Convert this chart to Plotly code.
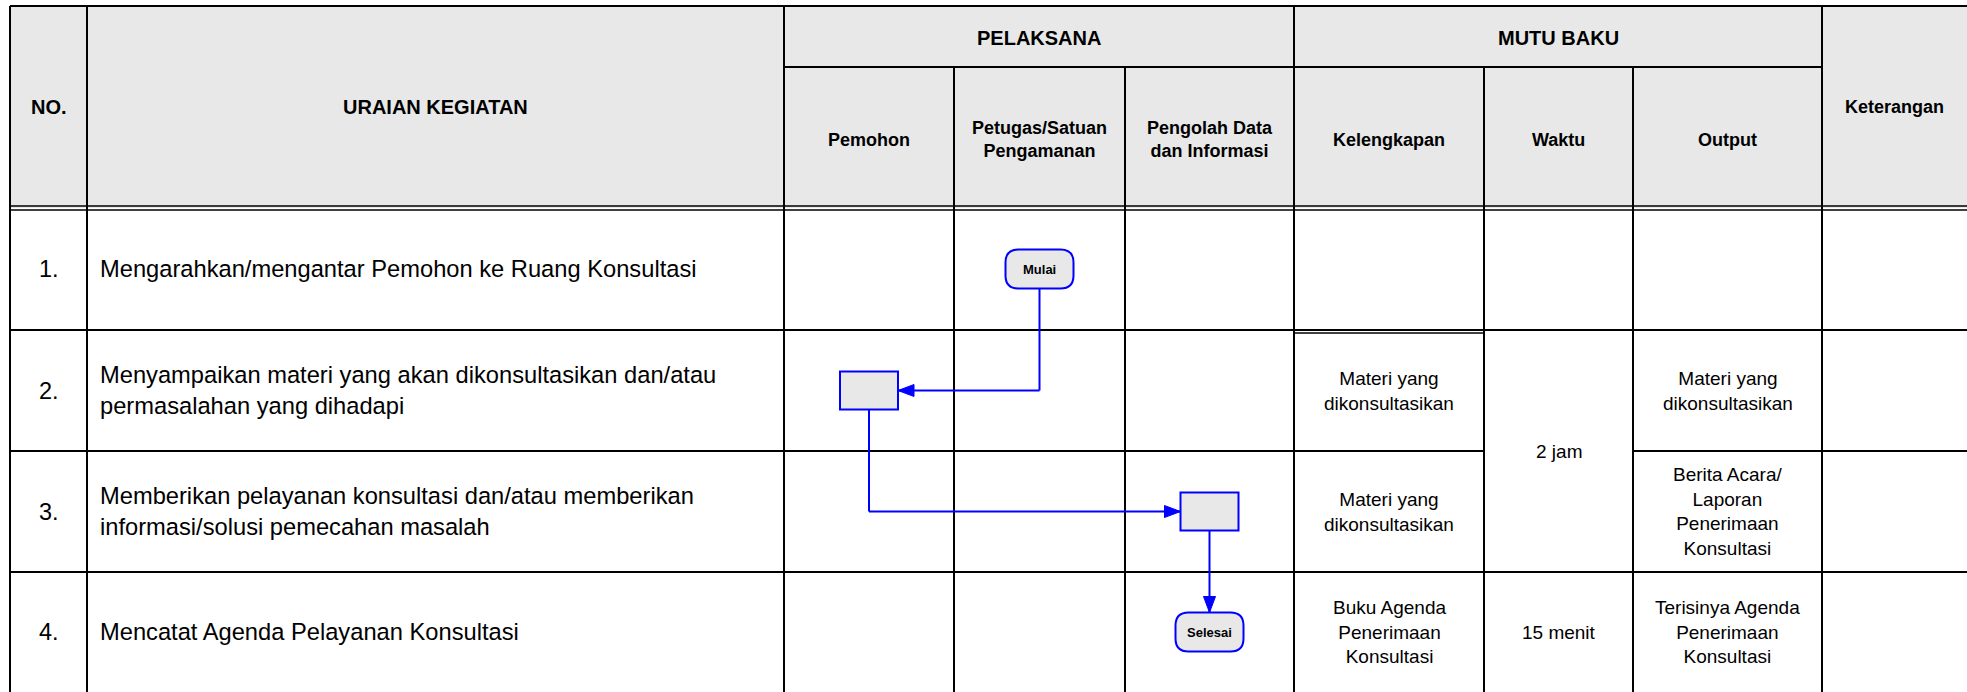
import plotly.graph_objects as go

# ---------------- data ----------------
nomor = ["1.", "2.", "3.", "4."]
uraian = [
    "Mengarahkan/mengantar Pemohon ke Ruang Konsultasi",
    "Menyampaikan materi yang akan dikonsultasikan dan/atau<br>permasalahan yang dihadapi",
    "Memberikan pelayanan konsultasi dan/atau memberikan<br>informasi/solusi pemecahan masalah",
    "Mencatat Agenda Pelayanan Konsultasi",
]
header_main = ["NO.", "URAIAN KEGIATAN", "PELAKSANA", "MUTU BAKU", "Keterangan"]
pelaksana = ["Pemohon", "Petugas/Satuan<br>Pengamanan", "Pengolah Data<br>dan Informasi"]
mutu_baku = ["Kelengkapan", "Waktu", "Output"]
kelengkapan = ["", "Materi yang<br>dikonsultasikan", "Materi yang<br>dikonsultasikan",
               "Buku Agenda<br>Penerimaan<br>Konsultasi"]
waktu_labels = ["", "2 jam", "15 menit"]
waktu_rows = [[0], [1, 2], [3]]
output = ["", "Materi yang<br>dikonsultasikan",
          "Berita Acara/<br>Laporan<br>Penerimaan<br>Konsultasi",
          "Terisinya Agenda<br>Penerimaan<br>Konsultasi"]
flow_actor = [1, 0, 2, 2]          # index into pelaksana per step
flow_type = ["terminal", "process", "process", "terminal"]
flow_label = ["Mulai", "", "", "Selesai"]

# ---------------- layout geometry ----------------
W, H = 1967, 692
XE = [10, 87, 784, 954, 1125, 1294, 1484, 1633, 1822, 1975]   # column edges
Y_TOP, Y_SUB, Y_HEAD = 6, 67, 208
YR = [208, 330, 451, 572, 692]                                  # row edges
BLACK = "#000000"
BLUE = "#0000FF"
GRAY = "#E8E8E8"
FONT = "Liberation Sans, Arial, sans-serif"

shapes = []
ann = []

def line(x0, y0, x1, y1, color=BLACK, w=2):
    shapes.append(dict(type="line", x0=x0, y0=y0, x1=x1, y1=y1,
                       line=dict(color=color, width=w), layer="above"))

def text(x, y, s, size, bold=False, xanchor="center", align="center"):
    ann.append(dict(x=x, y=y, text=s, showarrow=False, xanchor=xanchor, yanchor="middle",
                    align=align, font=dict(family=FONT, size=size, color=BLACK,
                                           weight="bold" if bold else "normal")))

# header fill
shapes.append(dict(type="rect", x0=XE[0], x1=W + 10, y0=Y_TOP, y1=Y_HEAD,
                   fillcolor=GRAY, line=dict(width=0), layer="below"))

# outer / header lines
line(XE[0], Y_TOP, W + 10, Y_TOP)
line(XE[0], Y_TOP, XE[0], H + 5)
for x in (XE[1], XE[2], XE[5], XE[8]):
    line(x, Y_TOP, x, H + 5)
for x in (XE[3], XE[4], XE[6], XE[7]):
    line(x, Y_SUB, x, H + 5)
line(XE[2], Y_SUB, XE[8], Y_SUB)
line(XE[0], Y_HEAD - 2, W + 10, Y_HEAD - 2, w=1.5)
line(XE[0], Y_HEAD + 2, W + 10, Y_HEAD + 2, w=1.5)

# row lines (Waktu column merged for rows 2-3)
for i, y in enumerate(YR[1:-1], start=1):
    if i == 2:
        line(XE[0], y, XE[6], y)
        line(XE[7], y, W + 10, y)
    else:
        line(XE[0], y, W + 10, y)
line(XE[5], YR[1] + 3, XE[6], YR[1] + 3, w=1.5)

# header texts
text((XE[0] + XE[1]) / 2, (Y_TOP + Y_HEAD) / 2, header_main[0], 20, True)
text((XE[1] + XE[2]) / 2, (Y_TOP + Y_HEAD) / 2, header_main[1], 20, True)
text((XE[2] + XE[5]) / 2, (Y_TOP + Y_SUB) / 2 + 1, header_main[2], 20, True)
text((XE[5] + XE[8]) / 2, (Y_TOP + Y_SUB) / 2 + 1, header_main[3], 20, True)
text((XE[8] + XE[9] - 8) / 2, (Y_TOP + Y_HEAD) / 2, header_main[4], 18, True)
for j, s in enumerate(pelaksana):
    text((XE[2 + j] + XE[3 + j]) / 2, (Y_SUB + Y_HEAD) / 2 + 2, s, 18, True)
for j, s in enumerate(mutu_baku):
    text((XE[5 + j] + XE[6 + j]) / 2, (Y_SUB + Y_HEAD) / 2 + 2, s, 18, True)

# body texts
for i in range(4):
    yc = (YR[i] + YR[i + 1]) / 2
    text((XE[0] + XE[1]) / 2, yc, nomor[i], 23.5)
    text(XE[1] + 11, yc, uraian[i], 23.7, xanchor="left", align="left")
    if kelengkapan[i]:
        text((XE[5] + XE[6]) / 2, yc, kelengkapan[i], 19)
    if output[i]:
        text((XE[7] + XE[8]) / 2, yc, output[i], 19)
for lab, rows in zip(waktu_labels, waktu_rows):
    if lab:
        yc = (YR[rows[0]] + YR[rows[-1] + 1]) / 2
        text((XE[6] + XE[7]) / 2, yc, lab, 19)

# ---------------- flowchart ----------------
SIZE = {"terminal": (68, 39), "process": (58, 38)}

def node_box(i):
    cx = (XE[2 + flow_actor[i]] + XE[3 + flow_actor[i]]) / 2
    cy = (YR[i] + YR[i + 1]) / 2
    w, h = SIZE[flow_type[i]]
    return cx, cy, w, h

for i in range(len(flow_actor)):
    cx, cy, w, h = node_box(i)
    x0, x1, y0, y1 = cx - w / 2, cx + w / 2, cy - h / 2, cy + h / 2
    if flow_type[i] == "terminal":
        r = 13
        p = (f"M {x0 + r},{y0} L {x1 - r},{y0} Q {x1},{y0} {x1},{y0 + r} "
             f"L {x1},{y1 - r} Q {x1},{y1} {x1 - r},{y1} L {x0 + r},{y1} "
             f"Q {x0},{y1} {x0},{y1 - r} L {x0},{y0 + r} Q {x0},{y0} {x0 + r},{y0} Z")
        shapes.append(dict(type="path", path=p, fillcolor=GRAY,
                           line=dict(color=BLUE, width=2), layer="above"))
    else:
        shapes.append(dict(type="rect", x0=x0, x1=x1, y0=y0, y1=y1, fillcolor=GRAY,
                           line=dict(color=BLUE, width=2), layer="above"))
    if flow_label[i]:
        text(cx, cy, flow_label[i], 13, True)

AL, AW = 16, 6  # arrow length, half width

def arrow_head(tx, ty, direction):
    if direction == "left":
        p = f"M {tx},{ty} L {tx + AL},{ty - AW} L {tx + AL},{ty + AW} Z"
    elif direction == "right":
        p = f"M {tx},{ty} L {tx - AL},{ty - AW} L {tx - AL},{ty + AW} Z"
    else:  # down
        p = f"M {tx},{ty} L {tx - AW},{ty - AL} L {tx + AW},{ty - AL} Z"
    shapes.append(dict(type="path", path=p, fillcolor=BLUE,
                       line=dict(color=BLUE, width=1), layer="above"))

for i in range(len(flow_actor) - 1):
    ax, ay, aw, ah = node_box(i)
    bx, by, bw, bh = node_box(i + 1)
    if abs(ax - bx) < 1:
        line(ax, ay + ah / 2, bx, by - bh / 2, BLUE, 2)
        arrow_head(bx, by - bh / 2, "down")
    else:
        line(ax, ay + ah / 2, ax, by, BLUE, 2)
        if bx < ax:
            tx = bx + bw / 2
            line(ax, by, tx, by, BLUE, 2)
            arrow_head(tx, by, "left")
        else:
            tx = bx - bw / 2
            line(ax, by, tx, by, BLUE, 2)
            arrow_head(tx, by, "right")

fig = go.Figure()
fig.update_layout(
    width=W, height=H,
    margin=dict(l=0, r=0, t=0, b=0),
    paper_bgcolor="white", plot_bgcolor="white",
    xaxis=dict(range=[0, W], visible=False, fixedrange=True),
    yaxis=dict(range=[H, 0], visible=False, fixedrange=True),
    shapes=shapes, annotations=ann, showlegend=False,
)
fig.write_html("out.html", config={"displayModeBar": False},
               post_script="document.body.style.margin='0';document.body.style.overflow='hidden';")
